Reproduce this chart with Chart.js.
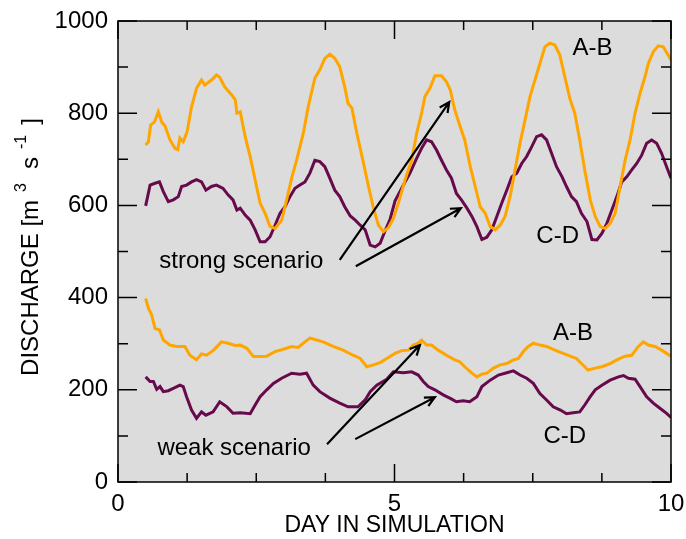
<!DOCTYPE html>
<html>
<head>
<meta charset="utf-8">
<script src="https://cdn.jsdelivr.net/npm/chart.js@4.4.0/dist/chart.umd.min.js"></script>
<style>
  html, body { margin: 0; padding: 0; background: #fff; }
  #wrap { width: 686px; height: 539px; }
</style>
</head>
<body>
<div id="wrap"><canvas id="dischargeChart" width="686" height="539"></canvas></div>
<script>
// discharge readings, [day, m3/s]
const strongAB = [
  [0.50,731],[0.55,738],[0.59,774],[0.66,781],[0.73,803],[0.79,781],[0.85,772],[0.94,742],[1.03,724],[1.08,721],
  [1.12,746],[1.18,738],[1.25,760],[1.33,814],[1.42,854],[1.51,872],[1.57,861],[1.69,872],[1.78,883],[1.84,878],
  [1.93,857],[2.06,839],[2.12,829],[2.15,800],[2.21,803],[2.30,749],[2.39,706],[2.48,655],[2.57,605],[2.66,583],
  [2.75,554],[2.84,550],[2.96,568],[3.05,612],[3.14,659],[3.23,698],[3.35,756],[3.44,814],[3.56,876],[3.65,894],
  [3.74,919],[3.83,928],[3.92,919],[4.01,901],[4.10,857],[4.16,821],[4.23,811],[4.32,756],[4.44,691],[4.53,641],
  [4.62,594],[4.71,557],[4.80,543],[4.89,552],[4.98,572],[5.07,605],[5.19,655],[5.31,698],[5.40,756],[5.49,800],
  [5.55,836],[5.64,854],[5.73,881],[5.85,881],[5.94,868],[6.01,850],[6.09,807],[6.18,774],[6.27,742],[6.37,684],
  [6.46,641],[6.55,597],[6.64,583],[6.73,554],[6.82,547],[6.91,557],[7.00,576],[7.09,619],[7.18,677],[7.27,735],
  [7.36,785],[7.45,836],[7.54,872],[7.63,908],[7.72,944],[7.81,952],[7.90,948],[7.99,926],[8.08,879],[8.17,832],
  [8.26,800],[8.35,742],[8.44,677],[8.54,612],[8.63,576],[8.72,554],[8.81,550],[8.90,561],[8.99,583],[9.08,641],
  [9.17,698],[9.26,742],[9.35,800],[9.44,843],[9.53,879],[9.59,908],[9.68,933],[9.77,946],[9.86,944],[9.95,926],
  [10.0,915]
];
const strongCD = [
  [0.50,599],[0.58,644],[0.67,648],[0.75,651],[0.82,630],[0.91,608],[1.00,612],[1.09,619],[1.15,641],[1.24,644],
  [1.33,651],[1.42,656],[1.51,651],[1.59,633],[1.69,641],[1.78,644],[1.90,637],[1.99,623],[2.08,612],[2.15,590],
  [2.21,594],[2.30,579],[2.39,568],[2.48,547],[2.57,521],[2.66,521],[2.75,532],[2.84,557],[2.93,583],[3.02,597],
  [3.11,619],[3.20,637],[3.29,644],[3.38,651],[3.47,670],[3.56,698],[3.65,695],[3.74,684],[3.83,659],[3.92,633],
  [4.01,619],[4.10,597],[4.20,577],[4.29,568],[4.38,557],[4.47,547],[4.56,514],[4.65,510],[4.74,518],[4.83,545],
  [4.92,570],[5.01,610],[5.16,644],[5.28,670],[5.40,702],[5.49,724],[5.58,742],[5.67,738],[5.76,720],[5.85,698],
  [5.94,677],[6.03,659],[6.12,626],[6.21,612],[6.31,594],[6.40,576],[6.49,554],[6.58,526],[6.67,531],[6.76,547],
  [6.85,576],[6.94,605],[7.03,633],[7.12,662],[7.21,670],[7.30,691],[7.39,706],[7.48,727],[7.57,749],[7.66,753],
  [7.75,742],[7.84,713],[7.93,684],[8.03,662],[8.11,641],[8.20,619],[8.29,608],[8.38,583],[8.48,565],[8.57,526],
  [8.66,525],[8.75,539],[8.84,561],[8.93,590],[9.02,619],[9.11,651],[9.20,662],[9.29,677],[9.38,691],[9.47,709],
  [9.56,735],[9.65,742],[9.74,735],[9.83,713],[9.92,684],[10.0,659]
];
const weakAB = [
  [0.50,398],[0.55,377],[0.61,362],[0.67,333],[0.75,330],[0.82,308],[0.94,297],[1.06,294],[1.21,294],[1.30,275],
  [1.42,265],[1.51,278],[1.60,275],[1.72,285],[1.87,304],[1.99,301],[2.12,296],[2.21,297],[2.33,290],[2.45,272],
  [2.54,272],[2.69,273],[2.84,283],[2.99,288],[3.14,294],[3.26,292],[3.38,304],[3.47,312],[3.59,308],[3.71,304],
  [3.89,294],[4.07,286],[4.25,275],[4.38,268],[4.50,250],[4.62,254],[4.74,259],[4.86,268],[5.01,279],[5.13,285],
  [5.25,286],[5.34,297],[5.43,301],[5.49,308],[5.58,297],[5.67,297],[5.79,286],[5.94,275],[6.09,265],[6.18,261],
  [6.27,250],[6.40,236],[6.49,228],[6.58,234],[6.67,236],[6.79,247],[6.91,254],[7.03,257],[7.15,265],[7.24,268],
  [7.33,283],[7.42,294],[7.51,301],[7.63,297],[7.75,294],[7.90,286],[8.05,279],[8.20,272],[8.29,268],[8.38,257],
  [8.50,243],[8.63,247],[8.75,250],[8.90,257],[9.02,265],[9.17,273],[9.29,275],[9.41,294],[9.50,304],[9.59,297],
  [9.71,294],[9.83,286],[9.92,279],[10.0,273]
];
const weakCD = [
  [0.50,228],[0.58,218],[0.64,218],[0.70,201],[0.76,207],[0.82,196],[0.91,198],[1.00,203],[1.12,210],[1.18,207],
  [1.24,185],[1.33,156],[1.42,138],[1.51,152],[1.59,145],[1.72,152],[1.84,174],[1.97,163],[2.08,149],[2.21,150],
  [2.39,148],[2.48,167],[2.57,185],[2.69,200],[2.81,214],[2.96,225],[3.14,236],[3.29,234],[3.41,236],[3.53,210],
  [3.65,196],[3.83,182],[4.01,171],[4.16,163],[4.34,163],[4.47,178],[4.56,196],[4.68,210],[4.86,223],[4.98,239],
  [5.16,237],[5.31,239],[5.43,232],[5.52,218],[5.61,207],[5.73,200],[5.88,189],[6.00,182],[6.12,174],[6.24,176],
  [6.36,174],[6.49,185],[6.58,207],[6.73,221],[6.88,232],[7.03,237],[7.15,241],[7.27,232],[7.39,225],[7.51,214],
  [7.63,192],[7.75,178],[7.87,163],[8.00,156],[8.11,148],[8.23,150],[8.35,152],[8.44,167],[8.54,185],[8.63,200],
  [8.75,210],[8.90,221],[9.05,228],[9.14,231],[9.23,225],[9.35,223],[9.44,207],[9.56,185],[9.68,171],[9.80,160],
  [9.92,149],[10.0,140]
];

const xRange = [0, 10];
const yRange = [0, 1000];
const xStep = 5, xMinorStep = 1.25;
const yStep = 200, yMinorStep = 100;

// text labels and arrows, placed in data coordinates
const notes = [
  { text: 'A-B', x: 8.58, y: 926 },
  { text: 'C-D', x: 7.95, y: 518 },
  { text: 'strong scenario', x: 2.23, y: 464 },
  { text: 'A-B', x: 8.23, y: 308 },
  { text: 'C-D', x: 8.08, y: 85 },
  { text: 'weak scenario', x: 2.10, y: 59 }
];
const arrows = [
  [[4.01, 482], [5.99, 824]],
  [[4.30, 468], [6.20, 594]],
  [[3.78, 82], [5.46, 297]],
  [[4.29, 93], [5.73, 184]]
];

const ORANGE = '#ffa500';
const PURPLE = '#660a4c';
const FONT = '"Liberation Sans", Arial, Helvetica, sans-serif';

const toXY = arr => arr.map(p => ({ x: p[0], y: p[1] }));

function arrow(ctx, x1, y1, x2, y2) {
  const ang = Math.atan2(y2 - y1, x2 - x1);
  const head = 11, spread = 0.45;
  ctx.beginPath();
  ctx.moveTo(x1, y1);
  ctx.lineTo(x2, y2);
  ctx.moveTo(x2 - head * Math.cos(ang - spread), y2 - head * Math.sin(ang - spread));
  ctx.lineTo(x2, y2);
  ctx.lineTo(x2 - head * Math.cos(ang + spread), y2 - head * Math.sin(ang + spread));
  ctx.stroke();
}

const decor = {
  id: 'decor',
  beforeDraw(chart) {
    const { ctx, chartArea: a } = chart;
    ctx.save();
    ctx.fillStyle = '#dcdcdc';
    ctx.fillRect(a.left, a.top, a.right - a.left, a.bottom - a.top);
    ctx.restore();
  },
  afterDraw(chart) {
    const { ctx, chartArea: a, scales } = chart;
    const xs = scales.x, ys = scales.y;
    ctx.save();
    ctx.strokeStyle = '#000';
    ctx.lineWidth = 1.5;
    ctx.strokeRect(a.left, a.top, a.right - a.left, a.bottom - a.top);

    // inward tick marks on all four sides
    ctx.beginPath();
    for (let v = xRange[0]; v <= xRange[1] + 1e-9; v += xMinorStep) {
      const px = xs.getPixelForValue(v);
      const len = Math.abs(v % xStep) < 1e-9 ? 18 : 9;
      ctx.moveTo(px, a.bottom); ctx.lineTo(px, a.bottom - len);
      ctx.moveTo(px, a.top); ctx.lineTo(px, a.top + len);
    }
    for (let v = yRange[0]; v <= yRange[1] + 1e-9; v += yMinorStep) {
      const py = ys.getPixelForValue(v);
      const len = v % yStep === 0 ? 19 : 10;
      ctx.moveTo(a.left, py); ctx.lineTo(a.left + len, py);
      ctx.moveTo(a.right, py); ctx.lineTo(a.right - len, py);
    }
    ctx.stroke();

    // annotations
    ctx.fillStyle = '#000';
    ctx.font = '24px ' + FONT;
    ctx.textAlign = 'center';
    ctx.textBaseline = 'alphabetic';
    notes.forEach(n => ctx.fillText(n.text, xs.getPixelForValue(n.x), ys.getPixelForValue(n.y)));

    ctx.lineWidth = 2.2;
    arrows.forEach(([f, t]) => arrow(ctx,
      xs.getPixelForValue(f[0]), ys.getPixelForValue(f[1]),
      xs.getPixelForValue(t[0]), ys.getPixelForValue(t[1])));

    // y axis title with superscripts
    const parts = [
      { t: 'DISCHARGE [m', size: 24, rise: 0, gap: 0 },
      { t: '3', size: 16, rise: 12, gap: 8 },
      { t: 's', size: 24, rise: 0, gap: 14 },
      { t: '-1', size: 16, rise: 12, gap: 8 },
      { t: ']', size: 24, rise: 0, gap: 10 }
    ];
    let total = 0;
    parts.forEach(p => { ctx.font = p.size + 'px ' + FONT; p.w = ctx.measureText(p.t).width; total += p.gap + p.w; });
    ctx.translate(38, 247);
    ctx.rotate(-Math.PI / 2);
    ctx.textAlign = 'left';
    let pos = -total / 2;
    parts.forEach(p => {
      pos += p.gap;
      ctx.font = p.size + 'px ' + FONT;
      ctx.fillText(p.t, pos, -p.rise);
      pos += p.w;
    });
    ctx.restore();
  }
};

new Chart(document.getElementById('dischargeChart'), {
  type: 'line',
  data: {
    datasets: [
      { label: 'A-B strong', data: toXY(strongAB), borderColor: ORANGE },
      { label: 'C-D strong', data: toXY(strongCD), borderColor: PURPLE },
      { label: 'A-B weak', data: toXY(weakAB), borderColor: ORANGE },
      { label: 'C-D weak', data: toXY(weakCD), borderColor: PURPLE }
    ]
  },
  options: {
    responsive: false,
    animation: false,
    events: [],
    datasets: { line: { borderWidth: 3, pointRadius: 0, tension: 0, fill: false } },
    layout: { padding: { top: 21, right: 15, left: 0, bottom: 0 } },
    plugins: { legend: { display: false }, tooltip: { enabled: false } },
    scales: {
      x: {
        type: 'linear', min: xRange[0], max: xRange[1],
        grid: { display: false, drawTicks: false }, border: { display: false },
        ticks: { stepSize: xStep, color: '#000', padding: 8, font: { family: FONT, size: 24 }, callback: v => String(v) },
        title: { display: true, text: 'DAY IN SIMULATION', color: '#000', padding: { top: 0, bottom: 0 }, font: { family: FONT, size: 23 } },
        afterFit: s => { s.height = 57; s.paddingLeft = 0; s.paddingRight = 0; }
      },
      y: {
        type: 'linear', min: yRange[0], max: yRange[1],
        grid: { display: false, drawTicks: false }, border: { display: false },
        ticks: { stepSize: yStep, color: '#000', padding: 10, font: { family: FONT, size: 24 }, callback: v => String(v) },
        afterFit: s => { s.width = 118; s.paddingTop = 0; s.paddingBottom = 0; }
      }
    }
  },
  plugins: [decor]
});
</script>
</body>
</html>
